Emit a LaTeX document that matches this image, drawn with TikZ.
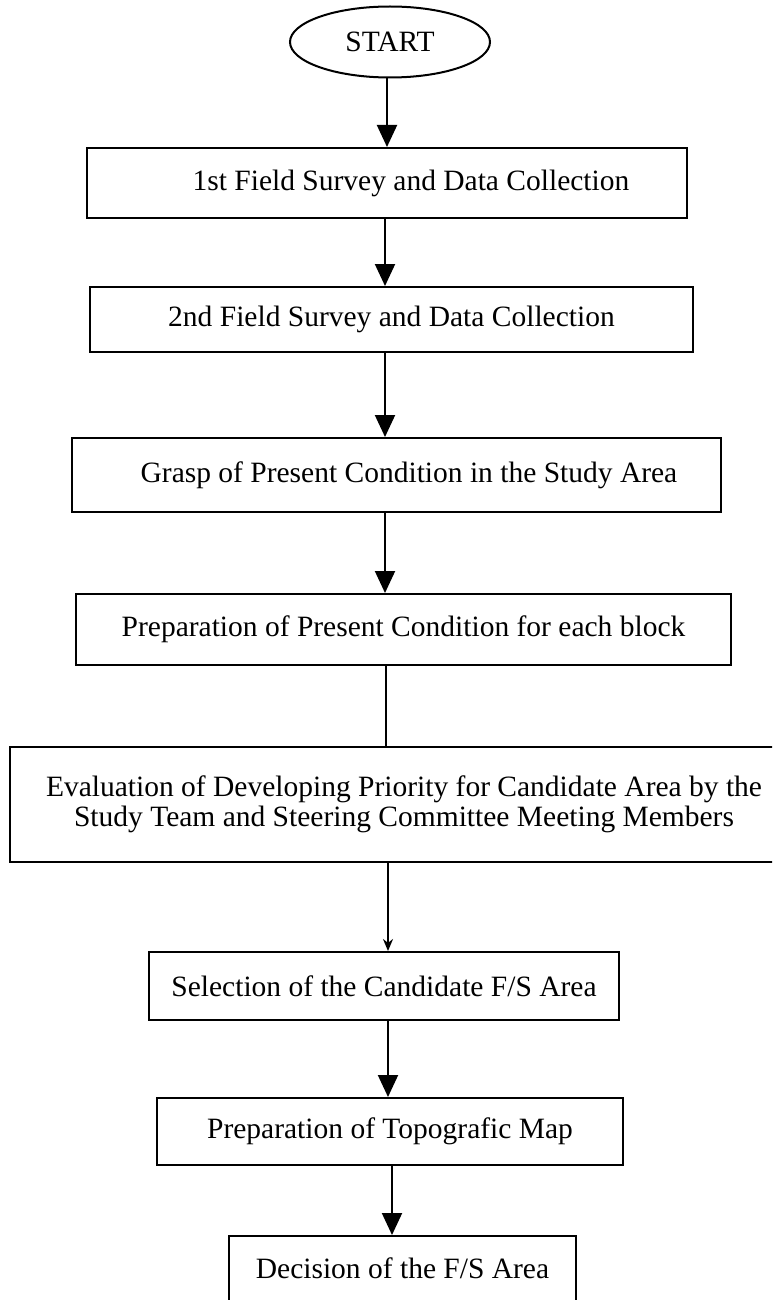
\documentclass[tikz,border=0pt]{standalone}
\usepackage{fontspec}
\setmainfont{Liberation Serif}
\usetikzlibrary{shapes.geometric,arrows.meta}
\begin{document}
\begin{tikzpicture}[x=1pt,y=-1pt,
  every node/.style={font=\fontsize{29.5}{30}\selectfont},
  stepbox/.style={draw,line width=2pt,rectangle,inner sep=0pt},
  arr/.style={line width=2pt,-{Triangle[width=20pt,length=22pt]}},
  plainline/.style={line width=2pt}]
\useasboundingbox (0,0) rectangle (772,1300);
\clip (0,0) rectangle (772,1300);
\node[draw,ellipse,line width=2pt,minimum width=200pt,minimum height=71pt,inner sep=0pt] (start) at (390,42) {START};
\node[stepbox,minimum width=600pt,minimum height=70pt] (b1) at (387,183) {\hspace*{48pt}1st Field Survey and Data Collection};
\node[stepbox,minimum width=603pt,minimum height=65pt] (b2) at (391.5,319.5) {2nd Field Survey and Data Collection};
\node[stepbox,minimum width=649pt,minimum height=74pt] (b3) at (396.5,475) {\hspace*{25pt}Grasp of Present Condition in the Study Area};
\node[stepbox,minimum width=655pt,minimum height=71pt] (b4) at (403.5,629.5) {Preparation of Present Condition for each block};
\node[stepbox,minimum width=788pt,minimum height=115pt,align=center] (b5) at (404,804.5) {Evaluation of Developing Priority for Candidate Area by the\\Study Team and Steering Committee Meeting Members};
\node[stepbox,minimum width=470pt,minimum height=68pt] (b6) at (384,986) {Selection of the Candidate F/S Area};
\node[stepbox,minimum width=466pt,minimum height=67pt] (b7) at (390,1131.5) {Preparation of Topografic Map};
\node[stepbox,anchor=north,minimum width=347pt,text height=30pt,text depth=80pt,inner ysep=12pt] (b8) at (402.5,1235) {Decision of the F/S Area};

\draw[arr] (start.south -| 387,0) -- (b1.north -| 387,0);
\draw[arr] (b1.south -| 385,0) -- (b2.north -| 385,0);
\draw[arr] (b2.south -| 385,0) -- (b3.north -| 385,0);
\draw[arr] (b3.south -| 385,0) -- (b4.north -| 385,0);
\draw[plainline] (b4.south -| 386,0) -- (b5.north -| 386,0);
\draw[plainline,-{Stealth[width=10pt,length=12pt]}] (b5.south -| 388,0) -- (b6.north -| 388,0);
\draw[arr] (b6.south -| 388,0) -- (b7.north -| 388,0);
\draw[arr] (b7.south -| 392,0) -- (b8.north -| 392,0);
\end{tikzpicture}
\end{document}
